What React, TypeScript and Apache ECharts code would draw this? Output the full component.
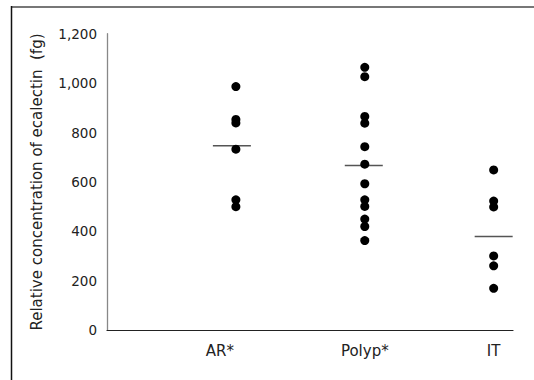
import React, { useEffect, useRef } from "react";
import * as echarts from "echarts";

const categories = ["AR*", "Polyp*", "IT"];
const categoryPositions = [1, 2, 3];
const arValues = [986, 853, 839, 733, 528, 500];
const polypValues = [1064, 1026, 865, 838, 743, 672, 593, 528, 501, 450, 420, 363];
const itValues = [649, 523, 499, 301, 261, 170];
const meanValues = [747, 667, 380];
const meanOffsets = [-4, -1, 0];
const yTicks = [0, 200, 400, 600, 800, 1000, 1200];

const groups = [arValues, polypValues, itValues];

function fmt(v: number) {
  return v.toLocaleString("en-US");
}

export default function App() {
  const ref = useRef<HTMLDivElement>(null);
  useEffect(() => {
    if (!ref.current) return;
    const chart = echarts.init(ref.current, undefined, { renderer: "svg" });
    const pts: number[][] = [];
    groups.forEach((g, i) => g.forEach((v) => pts.push([categoryPositions[i], v])));
    chart.setOption({
      animation: false,
      backgroundColor: "#ffffff",
      grid: { left: 107, right: 21, top: 33.7, bottom: 49.7, containLabel: false },
      xAxis: {
        type: "value",
        min: 0,
        max: 3.15,
        interval: 1,
        splitLine: { show: false },
        axisTick: { show: false },
        axisLine: { show: true, onZero: false, lineStyle: { color: "#222222", width: 1.2 } },
        axisLabel: {
          showMinLabel: false,
          showMaxLabel: false,
          margin: 13,
          fontFamily: "DejaVu Sans",
          fontSize: 15,
          color: "#222222",
          formatter: (v: number) => {
            const i = categoryPositions.indexOf(Math.round(v * 1000) / 1000);
            if (i < 0) return "";
            return i === 0 ? "{a|" + categories[i] + "}" : categories[i];
          },
          rich: {
            a: { fontFamily: "DejaVu Sans", fontSize: 15, color: "#222222", padding: [0, 32, 0, 0] },
          },
        },
      },
      yAxis: {
        type: "value",
        min: yTicks[0],
        max: yTicks[yTicks.length - 1],
        interval: 200,
        splitLine: { show: false },
        axisTick: { show: false },
        axisLine: { show: true, lineStyle: { color: "#888888", width: 1.3 } },
        axisLabel: {
          margin: 10,
          fontFamily: "DejaVu Sans",
          fontSize: 13.5,
          color: "#222222",
          formatter: (v: number) => fmt(v),
        },
        name: "Relative concentration of ecalectin  (fg)",
        nameLocation: "middle",
        nameRotate: 90,
        nameGap: 63,
        nameTextStyle: { fontFamily: "DejaVu Sans", fontSize: 15, color: "#222222" },
      },
      series: [
        {
          type: "scatter",
          symbol: "circle",
          symbolSize: 9,
          itemStyle: { color: "#000000", opacity: 1 },
          data: pts,
          z: 3,
        },
        {
          type: "scatter",
          symbol: "rect",
          symbolSize: [38, 1.5],
          itemStyle: { color: "#555555", opacity: 1 },
          data: meanValues.map((m, i) => ({
            value: [categoryPositions[i], m],
            symbolOffset: [meanOffsets[i], 0],
          })),
          z: 2,
        },
      ],
      graphic: [
        { type: "line", shape: { x1: 11, y1: 7, x2: 534, y2: 7 }, style: { stroke: "#777777", lineWidth: 2 } },
        { type: "line", shape: { x1: 11.5, y1: 6, x2: 11.5, y2: 380 }, style: { stroke: "#111111", lineWidth: 1.5 } },
      ],
    });
    return () => chart.dispose();
  }, []);
  return (
    <div style={{ position: "fixed", left: 0, top: 0, width: 534, height: 380, background: "#fff" }}>
      <div ref={ref} style={{ width: 534, height: 380 }} />
    </div>
  );
}
